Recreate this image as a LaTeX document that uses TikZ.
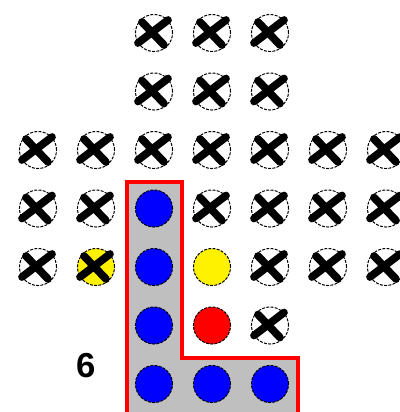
\documentclass[tikz,border=0pt]{standalone}
\usepackage{fontspec}
\setmainfont{Liberation Sans}
\usetikzlibrary{positioning}
\tikzset{
  hole/.style={circle, draw, dash pattern=on 2.2pt off 1pt, line width=0.75pt, minimum size=27.8pt, inner sep=0pt},
  bluepeg/.style={hole, fill=blue},
  yellowpeg/.style={hole, fill=yellow},
  redpeg/.style={hole, fill=red},
  cross/.style={line width=5.8pt, line cap=round},
  board/.style={draw=red, line width=2.3pt, fill=gray!50}
}

\begin{document}
\begin{tikzpicture}[x=0.75pt, y=-0.75pt]
  \useasboundingbox (0,0) rectangle (400,412);
  \clip (0,0) rectangle (400,412);

  % L-shaped region
  \draw[board] (127,182) -- (182,182) -- (182,358) -- (298,358)
               -- (298,420) -- (127,420) -- cycle;

  % empty holes (crossed out)
  \foreach \c/\r in {3/1, 4/1, 5/1, 3/2, 4/2, 5/2,
                     1/3, 2/3, 3/3, 4/3, 5/3, 6/3, 7/3,
                     1/4, 2/4, 4/4, 5/4, 6/4, 7/4,
                     1/5, 5/5, 6/5, 7/5, 5/6}{
    \node[hole] (h\c\r) at ({38+58*(\c-1)}, {33+58.5*(\r-1)}) {};
  }

  % pegs
  \node[yellowpeg] (h25) at (96,267) {};
  \node[yellowpeg] (h45) at (212,267) {};
  \node[redpeg] (h46) at (212,325.5) {};
  \foreach \c/\r in {3/4, 3/5, 3/6, 3/7, 4/7, 5/7}{
    \node[bluepeg] (h\c\r) at ({38+58*(\c-1)}, {33+58.5*(\r-1)}) {};
  }

  % crosses
  \foreach \h in {h31, h41, h51, h32, h42, h52,
                  h13, h23, h33, h43, h53, h63, h73,
                  h14, h24, h44, h54, h64, h74,
                  h15, h25, h55, h65, h75, h56}{
    \draw[cross] ([shift={(-16,10)}]\h.center) -- ([shift={(14,-13)}]\h.center);
    \draw[cross] ([shift={(-12,-11)}]\h.center) -- ([shift={(10,12)}]\h.center);
  }

  % move counter
  \node[font=\fontsize{26}{30}\selectfont\bfseries] (count) at (86,366) {6};
\end{tikzpicture}
\end{document}
